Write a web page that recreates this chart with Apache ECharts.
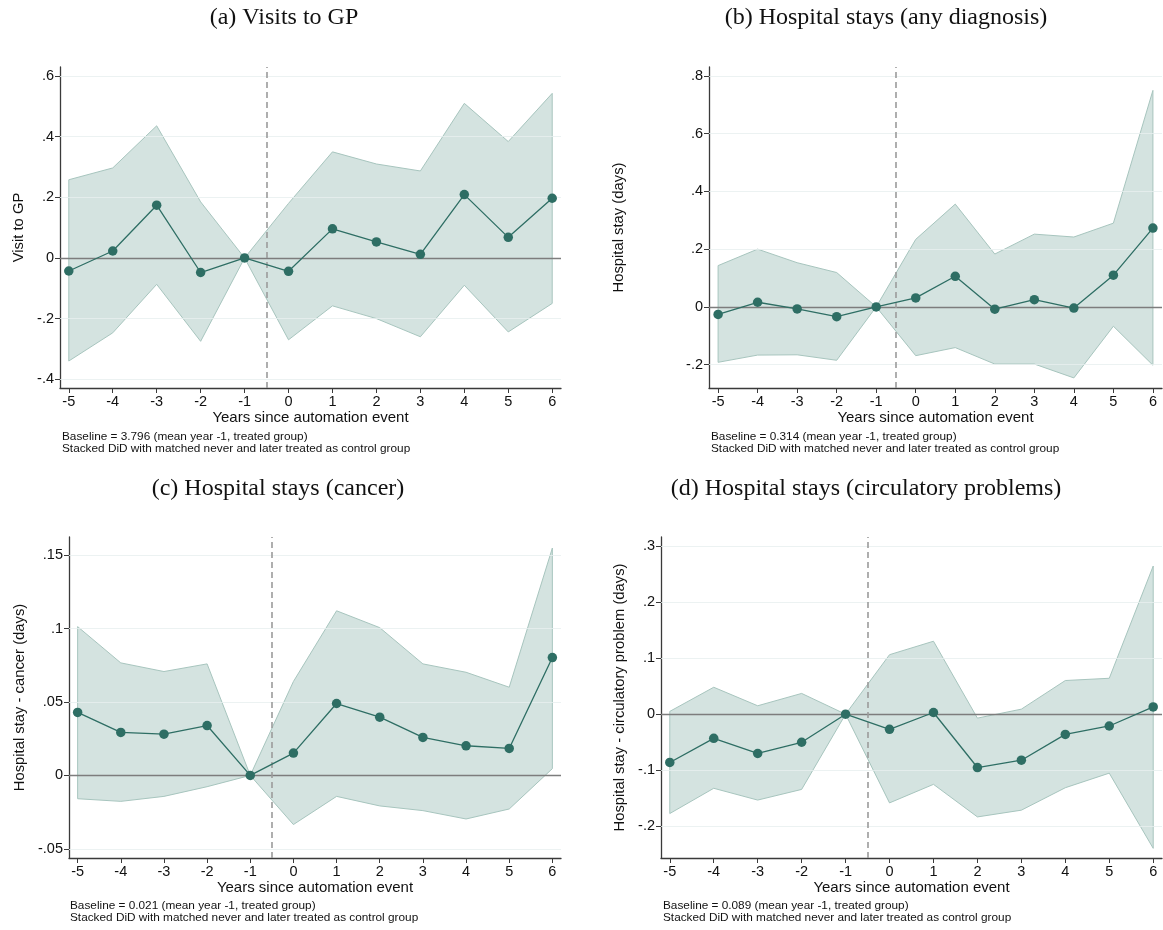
<!DOCTYPE html>
<html>
<head>
<meta charset="utf-8">
<script src="https://cdn.jsdelivr.net/npm/echarts@6/dist/echarts.min.js"></script>
<style>
html,body{margin:0;padding:0;background:#fff;}
#chart{width:1163px;height:930px;}
</style>
</head>
<body>
<div id="chart"></div>
<script>
// ---- Data ----
const years = [-5, -4, -3, -2, -1, 0, 1, 2, 3, 4, 5, 6];

// (a) Visits to GP
const gpCoef  = [-0.043, 0.023, 0.174, -0.048, 0, -0.044, 0.096, 0.053, 0.012, 0.209, 0.068, 0.197];
const gpUpper = [0.258, 0.297, 0.436, 0.185, 0, 0.180, 0.350, 0.310, 0.287, 0.510, 0.384, 0.543];
const gpLower = [-0.340, -0.247, -0.087, -0.275, 0, -0.270, -0.158, -0.200, -0.260, -0.090, -0.244, -0.150];
const gpTicks = [-0.4, -0.2, 0, 0.2, 0.4, 0.6];

// (b) Hospital stays (any diagnosis)
const anyCoef  = [-0.026, 0.016, -0.007, -0.034, 0, 0.031, 0.106, -0.008, 0.025, -0.004, 0.110, 0.273];
const anyUpper = [0.143, 0.200, 0.153, 0.119, 0, 0.234, 0.356, 0.183, 0.252, 0.242, 0.290, 0.750];
const anyLower = [-0.192, -0.167, -0.166, -0.185, 0, -0.169, -0.141, -0.198, -0.198, -0.246, -0.067, -0.202];
const anyTicks = [-0.2, 0, 0.2, 0.4, 0.6, 0.8];

// (c) Hospital stays (cancer)
const canCoef  = [0.0429, 0.0293, 0.0281, 0.0340, 0, 0.0152, 0.0490, 0.0397, 0.0259, 0.0202, 0.0184, 0.0803];
const canUpper = [0.1014, 0.0767, 0.0708, 0.0760, 0, 0.0640, 0.1122, 0.1007, 0.0760, 0.0703, 0.0601, 0.1550];
const canLower = [-0.0159, -0.0177, -0.0143, -0.0077, 0, -0.0335, -0.0143, -0.0208, -0.0240, -0.0297, -0.0229, 0.0046];
const canTicks = [-0.05, 0, 0.05, 0.1, 0.15];

// (d) Hospital stays (circulatory problems)
const cirCoef  = [-0.086, -0.043, -0.070, -0.050, 0, -0.027, 0.003, -0.095, -0.082, -0.036, -0.021, 0.013];
const cirUpper = [0.005, 0.048, 0.015, 0.037, 0, 0.106, 0.130, -0.007, 0.009, 0.060, 0.064, 0.264];
const cirLower = [-0.177, -0.132, -0.153, -0.134, 0, -0.158, -0.125, -0.183, -0.171, -0.131, -0.105, -0.239];
const cirTicks = [-0.2, -0.1, 0, 0.1, 0.2, 0.3];

const panels = [
  {title: '(a) Visits to GP', yName: 'Visit to GP', coef: gpCoef, upper: gpUpper, lower: gpLower, ticks: gpTicks,
   baseline: 'Baseline = 3.796 (mean year -1, treated group)'},
  {title: '(b) Hospital stays (any diagnosis)', yName: 'Hospital stay (days)', coef: anyCoef, upper: anyUpper, lower: anyLower, ticks: anyTicks,
   baseline: 'Baseline = 0.314 (mean year -1, treated group)'},
  {title: '(c) Hospital stays (cancer)', yName: 'Hospital stay - cancer (days)', coef: canCoef, upper: canUpper, lower: canLower, ticks: canTicks,
   baseline: 'Baseline = 0.021 (mean year -1, treated group)'},
  {title: '(d) Hospital stays (circulatory problems)', yName: 'Hospital stay - circulatory problem (days)', coef: cirCoef, upper: cirUpper, lower: cirLower, ticks: cirTicks,
   baseline: 'Baseline = 0.089 (mean year -1, treated group)'}
];
const note2 = 'Stacked DiD with matched never and later treated as control group';
const xName = 'Years since automation event';

// ---- Layout ----
const layout = [
  {left: 60,  top: 67,  width: 501, height: 321, xmin: -5.2,  xmax: 6.2,  ymin: -0.429, ymax: 0.630, nameGap: 34, titleX: 284, titleY: 18, noteX: 62,  noteY: 431},
  {left: 709, top: 67,  width: 453, height: 321, xmin: -5.23, xmax: 6.23, ymin: -0.281, ymax: 0.831, nameGap: 83, titleX: 886, titleY: 18, noteX: 711, noteY: 431},
  {left: 69,  top: 537, width: 492, height: 321, xmin: -5.2,  xmax: 6.2,  ymin: -0.0563, ymax: 0.1625, nameGap: 42, titleX: 278, titleY: 489, noteX: 70, noteY: 900},
  {left: 661, top: 537, width: 501, height: 321, xmin: -5.2,  xmax: 6.2,  ymin: -0.2562, ymax: 0.3157, nameGap: 34, titleX: 866, titleY: 489, noteX: 663, noteY: 900}
];

const LINE = '#2e6e64';
const BAND_FILL = '#d4e3e0';
const BAND_EDGE = '#a7c5be';
const GRID_C = '#e7efef';
const AXIS_C = '#3a3a3a';

function fmt(v) {
  let s = String(+(+v).toFixed(4));
  return s.replace(/^(-?)0\./, '$1.');
}

const option = {
  backgroundColor: '#fff',
  animation: false,
  grid: [],
  xAxis: [],
  yAxis: [],
  series: [],
  graphic: []
};

panels.forEach((p, k) => {
  const L = layout[k];
  option.grid.push({left: L.left, top: L.top, width: L.width, height: L.height, containLabel: false});
  option.xAxis.push({
    type: 'value', gridIndex: k, min: L.xmin, max: L.xmax,
    name: xName, nameLocation: 'middle', nameGap: 22,
    nameTextStyle: {fontFamily: 'Liberation Sans', fontSize: 15, color: '#111'},
    axisLine: {show: true, onZero: false, lineStyle: {color: AXIS_C, width: 1.3}},
    axisTick: {show: true, length: 5, customValues: years, lineStyle: {color: AXIS_C}},
    axisLabel: {customValues: years, fontFamily: 'Liberation Sans', fontSize: 14.5, color: '#111', margin: 6},
    splitLine: {show: false}
  });
  option.yAxis.push({
    type: 'value', gridIndex: k, min: L.ymin, max: L.ymax,
    name: p.yName, nameLocation: 'middle', nameGap: L.nameGap, nameRotate: 90,
    nameTextStyle: {fontFamily: 'Liberation Sans', fontSize: 14.8, color: '#111'},
    axisLine: {show: true, onZero: false, lineStyle: {color: AXIS_C, width: 1.3}},
    axisTick: {show: true, length: 5, customValues: p.ticks, lineStyle: {color: AXIS_C}},
    axisLabel: {customValues: p.ticks, formatter: fmt, fontFamily: 'Liberation Sans', fontSize: 14.5, color: '#111', margin: 6},
    splitLine: {show: false}
  });

  // CI band
  option.series.push({
    type: 'custom', xAxisIndex: k, yAxisIndex: k, z: 1, silent: true, clip: true,
    data: years.map((x, i) => [x, p.lower[i], p.upper[i]]),
    encode: {x: 0, y: [1, 2]},
    renderItem: (params, api) => {
      if (params.dataIndex !== 0) return null;
      const pts = [];
      for (let i = 0; i < years.length; i++) pts.push(api.coord([years[i], p.upper[i]]));
      for (let i = years.length - 1; i >= 0; i--) pts.push(api.coord([years[i], p.lower[i]]));
      return {type: 'polygon', shape: {points: pts}, style: {fill: BAND_FILL, stroke: BAND_EDGE, lineWidth: 1}};
    }
  });

  // gridlines (over band)
  option.series.push({
    type: 'line', xAxisIndex: k, yAxisIndex: k, z: 2, data: [], silent: true,
    markLine: {
      z: 2, silent: true, symbol: 'none', label: {show: false}, animation: false,
      lineStyle: {color: GRID_C, width: 1.2, type: 'solid', opacity: 0.8},
      data: p.ticks.filter(t => t !== 0).map(t => ({yAxis: t}))
    }
  });

  // zero line and event line
  option.series.push({
    type: 'line', xAxisIndex: k, yAxisIndex: k, z: 3, data: [], silent: true,
    markLine: {
      z: 3, silent: true, symbol: 'none', label: {show: false}, animation: false,
      data: [
        {yAxis: 0, lineStyle: {color: '#7d7d7d', width: 1.3, type: 'solid'}},
        {xAxis: -0.5, lineStyle: {color: '#9b9b9b', width: 1.6, type: [6, 4]}}
      ]
    }
  });

  // coefficients
  option.series.push({
    type: 'line', xAxisIndex: k, yAxisIndex: k, z: 10,
    data: years.map((x, i) => [x, p.coef[i]]),
    symbol: 'circle', symbolSize: 9.5,
    lineStyle: {color: LINE, width: 1.3},
    itemStyle: {color: LINE}
  });

  option.graphic.push({
    type: 'text', x: L.titleX, y: L.titleY, z: 10,
    style: {text: p.title, fontFamily: 'Liberation Serif', fontSize: 24, fill: '#111', textAlign: 'center', textVerticalAlign: 'middle'}
  });
  option.graphic.push({
    type: 'text', x: L.noteX, y: L.noteY, z: 10,
    style: {text: p.baseline + '\n' + note2, fontFamily: 'Liberation Sans', fontSize: 11.8, lineHeight: 12, fill: '#111', textAlign: 'left', textVerticalAlign: 'top'}
  });
});

const chart = echarts.init(document.getElementById('chart'), null, {renderer: 'canvas'});
chart.setOption(option);
</script>
</body>
</html>
